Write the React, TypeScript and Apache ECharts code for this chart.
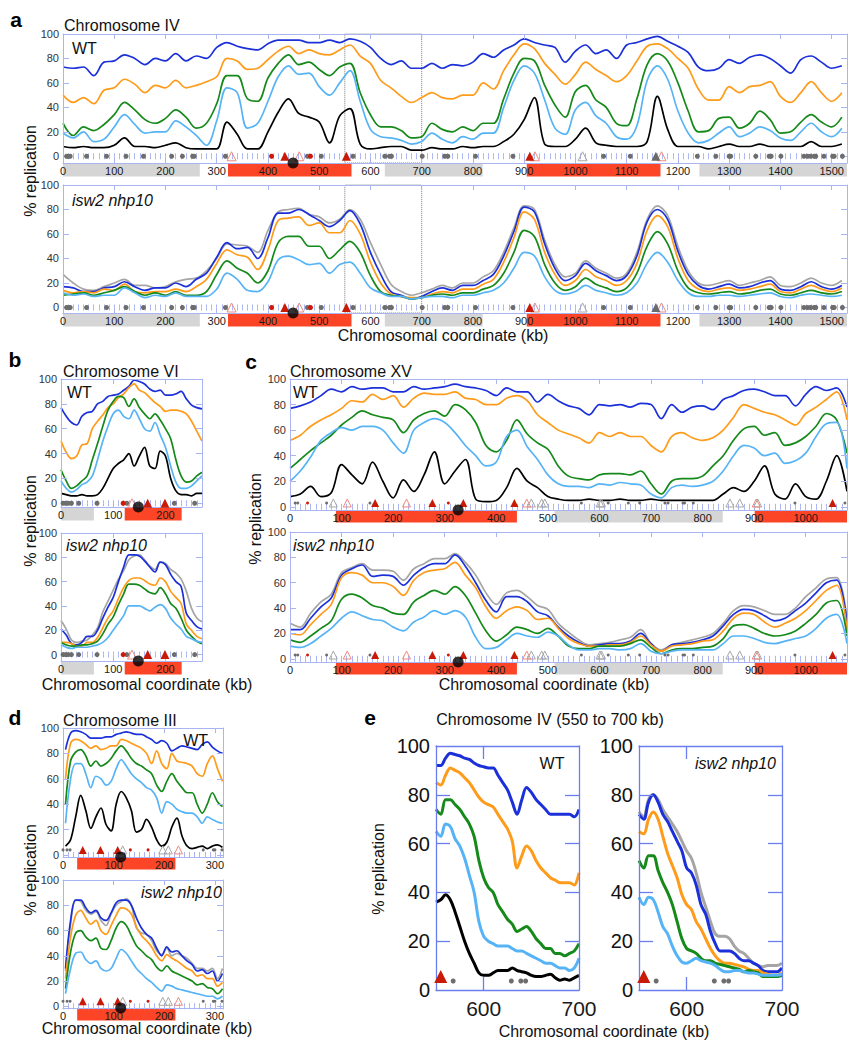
import React, { useEffect, useRef } from "react";
import * as echarts from "echarts";

const FONT = '"Liberation Sans", Arial, Helvetica, sans-serif';
const BLUE = "#1b30d8";
const ORANGE = "#ff9b1a";
const GREEN = "#15891a";
const LBLUE = "#56b4f6";
const BLACK = "#000000";
const GREY = "#a5a5a5";
const FRAME = "#a9b4f3";
const FRAME_E = "#6b7ef0";
const BAND_GREY = "#d5d5d5";
const BAND_RED = "#fb4526";

// ---------- Chromosome IV (panel a) ----------
const IV_X = [0,20,40,60,80,100,120,140,160,180,200,220,240,260,280,300,320,340,360,380,400,420,440,460,480,500,520,540,560,580,600,620,640,660,680,700,720,740,760,780,800,820,840,860,880,900,920,940,960,980,1000,1020,1040,1060,1080,1100,1120,1140,1160,1180,1200,1220,1240,1260,1280,1300,1320,1340,1360,1380,1400,1420,1440,1460,1480,1500,1520];
const IV_WT_BLUE = [73,72,73,66,77,78,83,80,75,80,78,84,78,82,80,89,93,90,88,87,92,95,95,95,93,93,95,93,96,94,89,80,75,78,72,72,76,72,75,74,77,84,81,87,91,96,93,91,89,77,86,91,84,87,80,91,93,96,98,94,90,85,73,70,72,79,76,81,83,80,74,68,79,82,77,72,74];
const IV_WT_ORANGE = [50,44,48,43,54,56,63,59,52,58,56,62,56,58,61,65,80,78,71,72,79,86,90,84,87,84,83,87,91,82,76,62,56,49,44,48,52,48,47,50,50,60,55,70,83,92,88,76,67,59,67,77,71,66,61,66,78,90,92,88,80,72,55,46,46,57,52,57,58,61,49,44,52,61,52,45,52];
const IV_WT_GREEN = [27,17,24,21,26,34,44,38,30,27,31,38,32,23,27,43,66,66,47,45,64,76,83,75,77,71,66,73,76,52,34,24,24,21,15,16,27,22,20,24,21,27,27,47,68,80,78,58,42,32,53,58,46,40,27,25,47,75,84,78,60,37,20,21,31,32,23,27,37,30,19,20,28,34,28,24,32];
const IV_WT_LBLUE = [19,15,20,12,14,24,34,26,19,20,20,29,24,17,9,29,56,52,23,27,45,65,74,67,68,57,50,60,70,45,22,16,15,13,10,12,19,14,11,16,14,19,19,40,62,74,68,46,23,18,38,44,33,27,16,14,25,62,74,63,37,19,11,13,19,24,16,19,24,21,15,13,20,27,20,16,23];
const IV_WT_BLACK = [8,7,8,7,7,9,15,8,8,7,9,11,7,6,6,6,28,18,6,6,20,36,47,35,32,28,11,33,39,10,6,7,8,8,5,5,7,6,6,8,7,8,8,12,18,30,48,10,8,8,14,23,11,9,8,8,8,12,49,22,8,8,8,6,8,10,8,8,10,8,8,8,8,12,8,8,10];
const IV_MUT_GREY = [27,20,15,14,17,20,23,18,18,16,17,21,23,24,30,40,52,51,50,45,63,78,80,81,76,74,69,72,80,72,53,35,19,13,10,12,15,18,16,20,20,25,30,45,65,83,80,55,35,25,28,38,32,28,24,28,45,72,83,75,50,30,20,18,20,22,18,20,22,25,18,17,20,24,20,18,22];
const IV_MUT_BLUE = [17,16,13,13,16,17,21,17,14,16,16,20,17,23,28,41,53,48,49,40,57,77,77,80,76,71,66,71,79,68,45,27,13,10,7,9,13,16,14,18,18,22,27,42,62,82,78,52,32,22,26,36,30,26,22,26,42,70,80,72,46,27,18,15,17,19,16,17,20,22,15,14,17,21,17,15,18];
const IV_MUT_ORANGE = [14,12,13,12,15,14,19,13,12,13,13,15,13,17,23,36,47,43,41,31,47,71,73,74,67,69,61,61,71,60,37,20,11,9,8,8,11,13,12,15,15,19,23,37,57,78,72,45,27,18,22,31,25,22,18,22,36,63,75,66,40,22,15,13,15,16,14,15,17,19,13,12,15,18,15,13,16];
const IV_MUT_GREEN = [10,11,12,10,12,14,17,13,10,12,10,13,10,10,13,27,38,32,28,20,30,53,58,58,50,50,40,47,54,45,26,13,10,9,7,8,10,11,10,12,12,15,18,28,45,63,58,35,20,14,17,24,19,16,13,16,28,50,62,52,30,16,12,11,12,13,11,12,14,15,11,10,12,14,12,11,13];
const IV_MUT_LBLUE = [12,10,11,9,10,10,16,12,8,10,9,12,9,9,9,15,28,23,14,13,21,39,42,39,35,36,28,35,37,28,16,12,9,9,7,8,9,9,8,10,10,12,14,20,32,45,42,25,14,11,13,18,14,12,10,12,20,36,45,37,22,12,9,9,10,10,9,10,11,12,9,8,10,11,10,9,10];
const IV_TICKS = [0,100,200,300,400,500,600,700,800,900,1000,1100,1200,1300,1400,1500];
const IV_BANDS = [[0,267,0],[322,563,1],[628,819,0],[905,1166,1],[1242,1530,0]];
const IV_CEN = [449];
const IV_GREY_DOTS = [7,10,14,46,85,123,157,212,233,253,256,317,477,504,566,628,637,641,701,745,751,805,878,1055,1107,1238,1274,1300,1303,1352,1378,1382,1401,1446,1453,1459,1466,1469,1485,1502,1505,1521];
const IV_RED_DOTS = [407,483];
const IV_RED_TRI = [433,553,911];
const IV_PINK_TRI = [329,461,921,1168];
const IV_GREY_HOLLOW = [1014];
const IV_DARK_TRI = [1157];
const IV_ZOOM = [550,700];

// ---------- Chromosome VI (panel b) ----------
const VI_X = [0,10,20,30,40,50,60,70,80,90,100,110,120,130,140,150,160,170,180,190,200,210,220,230,240,250,260,270];
const VI_WT_BLUE = [77,70,65,63,70,73,74,80,82,86,87,88,91,94,99,98,96,92,90,91,87,87,88,90,84,79,77,76];
const VI_WT_ORANGE = [50,41,36,38,47,48,60,66,71,77,80,85,88,93,96,91,89,85,81,78,74,75,75,74,72,66,58,50];
const VI_WT_GREEN = [27,18,12,14,18,22,35,48,62,75,82,86,85,78,84,77,72,68,72,67,60,52,35,22,17,18,22,25];
const VI_WT_LBLUE = [18,12,9,11,15,17,22,35,50,62,72,75,70,68,75,68,60,58,65,55,45,30,17,12,12,14,18,22];
const VI_WT_BLACK = [8,7,6,6,7,6,6,7,12,20,28,32,35,40,30,38,45,30,28,42,38,20,10,7,7,6,8,8];
const VI_MUT_GREY = [28,21,12,10,11,12,16,22,35,44,53,62,69,78,81,82,78,73,70,76,75,70,67,62,52,38,30,27];
const VI_MUT_BLUE = [21,16,9,8,10,15,15,20,30,39,47,60,72,82,82,81,77,72,68,76,74,66,60,56,34,28,23,21];
const VI_MUT_ORANGE = [10,10,9,7,7,10,10,14,22,30,36,46,55,61,63,63,61,58,57,63,60,52,47,42,25,20,15,13];
const VI_MUT_GREEN = [10,8,7,7,8,8,9,11,17,25,31,41,50,58,58,57,54,51,50,55,50,42,38,30,20,15,11,9];
const VI_MUT_LBLUE = [8,6,5,6,6,6,7,8,10,14,20,26,32,40,40,40,38,36,39,41,38,30,25,21,15,13,11,10];
const VI_TICKS = [0,100,200];
const VI_BANDS = [[0,63,0],[122,231,1]];
const VI_CEN = [148];
const VI_GREY_DOTS = [4,9,14,20,34,69,126,217,256];
const VI_RED_DOTS = [119];
const VI_PINK_TRI = [136];
const VI_RED_TRI = [166,199];

// ---------- Chromosome XV (panel c) ----------
const XV_X = [0,20,40,60,80,100,120,140,160,180,200,220,240,260,280,300,320,340,360,380,400,420,440,460,480,500,520,540,560,580,600,620,640,660,680,700,720,740,760,780,800,820,840,860,880,900,920,940,960,980,1000,1020,1040,1060,1080];
const XV_WT_BLUE = [77,79,82,87,92,90,94,92,93,93,90,90,94,92,93,94,96,94,93,91,87,93,90,90,82,88,83,79,77,72,80,79,80,78,81,80,69,80,74,78,79,76,84,87,91,92,90,87,87,79,88,94,91,93,78];
const XV_WT_ORANGE = [52,56,63,68,72,77,83,82,88,84,87,78,85,89,88,88,90,85,84,80,80,85,87,83,72,66,60,57,54,50,58,55,58,55,55,48,43,55,58,54,52,54,60,70,80,77,74,72,68,64,73,78,84,90,68];
const XV_WT_GREEN = [30,37,44,50,56,64,70,75,72,70,68,58,68,73,75,71,80,76,66,48,43,52,68,57,50,45,32,24,22,21,25,26,26,25,28,18,10,20,22,22,24,32,40,52,61,63,56,58,48,50,55,63,73,68,42];
const XV_WT_LBLUE = [20,28,39,52,58,62,60,63,63,60,50,42,60,66,69,66,58,48,40,32,35,55,60,47,37,25,18,16,16,15,18,17,19,18,17,10,7,15,17,16,17,20,28,40,48,46,40,42,34,36,42,55,65,66,30];
const XV_WT_BLACK = [8,10,16,8,11,33,25,18,35,20,7,21,12,25,43,18,28,37,6,4,5,15,30,20,15,8,6,5,5,6,5,5,6,5,5,6,5,5,5,5,5,5,10,15,12,20,32,10,6,18,8,6,20,40,12];
const XV_MUT_GREY = [28,25,36,45,51,68,72,75,70,70,69,62,71,75,79,79,83,76,66,52,43,52,54,49,42,39,28,21,15,11,12,13,15,17,23,12,7,11,13,15,17,20,28,38,42,41,38,35,35,40,49,56,63,64,31];
const XV_MUT_BLUE = [23,23,32,41,48,66,71,74,65,66,65,58,66,72,75,75,82,73,60,46,37,49,49,45,37,34,25,18,13,10,11,12,12,14,20,12,6,11,12,13,15,18,26,35,39,38,34,30,32,38,44,52,60,62,28];
const XV_MUT_ORANGE = [20,19,27,35,43,64,68,66,60,60,57,50,62,68,70,71,76,66,56,41,32,38,41,38,31,32,24,16,12,10,10,11,11,13,18,11,6,10,11,12,14,15,22,32,36,35,29,25,28,32,38,46,54,58,23];
const XV_MUT_GREEN = [15,13,18,24,30,47,51,48,42,40,36,35,45,50,54,51,57,50,36,22,14,19,25,23,20,24,18,10,8,8,10,10,10,12,15,9,4,7,8,8,9,10,16,26,27,24,20,18,19,22,28,35,44,46,18];
const XV_MUT_LBLUE = [10,9,12,18,24,32,37,34,31,30,25,22,29,33,38,35,38,33,17,8,9,15,20,18,17,21,18,11,7,7,8,8,7,8,12,6,4,6,7,7,7,7,12,18,18,16,13,12,14,16,18,24,32,35,12];
const XV_TICKS = [0,100,200,300,400,500,600,700,800,900,1000];
const XV_BANDS = [[89,440,1],[513,839,0],[901,1080,1]];
const XV_CEN = [326];
const XV_GREY_DOTS = [10,15,71,155,565,617,656,678,727,733,762,765,782,979,1076];
const XV_RED_DOTS = [34,307];
const XV_GREY_HOLLOW = [84,468,488,494,601,604,853,872,907];
const XV_PINK_TRI = [111,226,459,904];
const XV_RED_TRI = [165,276,336,435,1052];

// ---------- Chromosome III (panel d) ----------
const III_X = [5,15,25,35,45,55,65,75,85,95,105,115,125,135,145,155,165,175,185,195,205,215,225,235,245,255,265,275,285,295,305,315];
const III_WT_BLUE = [83,96,98,97,95,92,92,92,93,93,95,96,97,96,95,95,93,91,88,90,88,82,84,86,85,84,83,87,89,85,82,80];
const III_WT_ORANGE = [60,88,91,90,87,84,86,83,84,86,86,91,90,88,86,84,80,72,82,72,68,80,74,73,72,70,64,62,72,78,68,58];
const III_WT_GREEN = [40,74,81,83,78,70,74,70,72,76,82,86,82,76,72,70,67,64,55,50,58,64,58,53,49,49,40,33,40,49,42,38];
const III_WT_LBLUE = [25,60,72,72,64,53,62,60,55,58,68,75,70,64,60,57,53,51,45,33,42,40,36,34,33,33,30,25,30,28,26,25];
const III_WT_BLACK = [7,12,30,47,35,21,30,37,24,19,40,50,45,35,18,20,28,22,12,7,10,22,29,15,7,5,6,7,5,7,8,6];
const III_MUT_GREY = [28,65,84,83,76,73,75,68,64,73,80,83,85,80,62,58,57,52,44,41,46,40,42,40,38,34,30,30,28,30,22,30];
const III_MUT_BLUE = [30,68,84,84,78,74,76,70,68,74,82,84,84,80,70,62,57,54,46,40,47,43,44,40,36,33,28,29,26,28,20,26];
const III_MUT_ORANGE = [22,55,72,76,70,65,68,60,57,64,72,78,77,73,63,56,52,47,40,36,41,38,36,33,30,28,24,25,22,22,16,19];
const III_MUT_GREEN = [14,43,58,60,55,52,54,46,45,52,62,67,64,56,48,44,40,37,31,28,32,28,26,24,22,20,17,18,15,14,10,14];
const III_MUT_LBLUE = [10,30,42,43,37,34,36,30,28,30,38,45,42,36,30,26,22,19,15,12,17,16,14,13,12,11,10,9,8,8,6,8];
const III_TICKS = [0,100,200,300];
const III_BANDS = [[28,222,1]];
const III_CEN = [114];
const III_GREY_DOTS = [0,8,14,277,297,300,314];
const III_RED_DOTS = [133,168];
const III_RED_TRI = [39,74,108];
const III_GREY_HOLLOW = [118,197,208];
const III_PINK_TRI = [228];

// ---------- Chromosome IV 550-700 kb (panel e) ----------
const E_X = [550,555,560,565,570,575,580,585,590,595,600,605,610,615,620,625,630,635,640,645,650,655,660,665,670,675,680,685,690,695,700];
const E_WT_BLUE = [92,92,95,97,96.5,96,95,94.5,93,92,91.5,91,91,88,85,82,77,72,78,83,81,78,76,74,72,72,72,72,72,71,74];
const E_WT_ORANGE = [85,84,88,91,90,89,87,85,82,79,77,76,75,72,69,66,61,50,55,59,57,53,50,48,46,45,44,44,44,43,48];
const E_WT_GREEN = [74,72,78,78,76,74,71,68,63,53,46,42,40,35,32,29,27,24,25,26,24,21,19,17,17,15,15,14,15,16,19];
const E_WT_LBLUE = [65,63,68,67,62,59,54,47,40,28,22,20,19,18,18,18,17,16,16,15,14,13,12,11,11,10,9,9,8,9,13];
const E_WT_BLACK = [36,37,39,37,32,26,20,15,11,7,6,6,7,8,8,8,9,8,7.5,7,6,5.5,5.5,6,6.5,5,4,4.5,4,5,6];
const E_MUT_GREY = [73,71,78,80,78,74,71,68,65,61,57,54,48,40,34,28,23,22,22,21,18,16,15,13,11,10,9.5,10,10,10,11];
const E_MUT_BLUE = [72,70,77,80,77,72,69,65,61,57,50,48,43,35,31,24,19,16,16,16,15,13,12,12,11,10,8,7.5,7.5,7.5,9];
const E_MUT_ORANGE = [65,64,70,73,70,63,56,51,46,39,35,33,28,25,21,17,14,12,11,11,10.5,10,9.5,8.5,8,8,7,6.5,6,6,7];
const E_MUT_GREEN = [53,50,55,55,49,44,40,35,28,21,17,16,15,13,12,12,11,10.5,10,9.5,9,8.5,7.5,8,7.5,7,5.5,5.5,5.5,5.5,6];
const E_MUT_LBLUE = [38,35,38,37,32,26,23,18,14,11.5,11,12,13,12,11.5,11,10,8.5,7.5,7.5,8,8,7.5,7,7,6.5,6,6,6,6,6.5];
const E_RED_TRI = [555];
const E_GREY_DOTS = [568,629,639,644];

const Y_TICKS = [0,20,40,60,80,100];

function wtLines(b, o, g, l, k) {
  return [
    { values: b, color: BLUE },
    { values: o, color: ORANGE },
    { values: g, color: GREEN },
    { values: l, color: LBLUE },
    { values: k, color: BLACK },
  ];
}
function mutLines(gr, b, o, g, l) {
  return [
    { values: gr, color: GREY },
    { values: b, color: BLUE },
    { values: o, color: ORANGE },
    { values: g, color: GREEN },
    { values: l, color: LBLUE },
  ];
}

function markSet(kind, pos, size) {
  const base = { pos, size, symbol: "triangle", fill: "transparent", stroke: "transparent" };
  if (kind === "greyDot") return { ...base, symbol: "circle", fill: "#6d6d6d" };
  if (kind === "redDot") return { ...base, symbol: "circle", fill: "#d01808" };
  if (kind === "redTri") return { ...base, fill: "#c81a06" };
  if (kind === "pinkTri") return { ...base, stroke: "#ee8a80" };
  if (kind === "greyHollow") return { ...base, stroke: "#a8a8a8" };
  return { ...base, fill: "#6a6a6a" };
}

const IV_MARKS = [
  markSet("greyDot", IV_GREY_DOTS, 5),
  markSet("redDot", IV_RED_DOTS, 5),
  markSet("pinkTri", IV_PINK_TRI, 9),
  markSet("greyHollow", IV_GREY_HOLLOW, 9),
  markSet("darkTri", IV_DARK_TRI, 9),
  markSet("redTri", IV_RED_TRI, 9),
];
const VI_MARKS = [
  markSet("greyDot", VI_GREY_DOTS, 5),
  markSet("redDot", VI_RED_DOTS, 5),
  markSet("pinkTri", VI_PINK_TRI, 9),
  markSet("redTri", VI_RED_TRI, 9),
];
const XV_MARKS = [
  markSet("greyDot", XV_GREY_DOTS, 3),
  markSet("redDot", XV_RED_DOTS, 3),
  markSet("greyHollow", XV_GREY_HOLLOW, 8),
  markSet("pinkTri", XV_PINK_TRI, 8),
  markSet("redTri", XV_RED_TRI, 8),
];
const III_MARKS = [
  markSet("greyDot", III_GREY_DOTS, 3),
  markSet("redDot", III_RED_DOTS, 3),
  markSet("greyHollow", III_GREY_HOLLOW, 8),
  markSet("pinkTri", III_PINK_TRI, 8),
  markSet("redTri", III_RED_TRI, 8),
];
const E_MARKS_TRI = [markSet("redTri", E_RED_TRI, 13)];
const E_MARKS_DOT = [markSet("greyDot", E_GREY_DOTS, 5)];

const PANELS = [
  // a - WT
  { left: 63, top: 34, width: 784, height: 129, xMin: 0, xMax: 1530, yMin: -5.5,
    ticks: IV_TICKS, minor: 10, xs: IV_X, lw: 1.7,
    lines: wtLines(IV_WT_BLUE, IV_WT_ORANGE, IV_WT_GREEN, IV_WT_LBLUE, IV_WT_BLACK),
    bands: IV_BANDS, bandH: 13, cen: IV_CEN, marks: IV_MARKS, markY: 0, dotted: IV_ZOOM },
  // a - mutant
  { left: 63, top: 185, width: 784, height: 128, xMin: 0, xMax: 1530, yMin: -4.5,
    ticks: IV_TICKS, minor: 10, xs: IV_X, lw: 1.7,
    lines: mutLines(IV_MUT_GREY, IV_MUT_BLUE, IV_MUT_ORANGE, IV_MUT_GREEN, IV_MUT_LBLUE),
    bands: IV_BANDS, bandH: 13, cen: IV_CEN, marks: IV_MARKS, markY: 0, dotted: IV_ZOOM },
  // b - WT
  { left: 61, top: 379, width: 141, height: 128, xMin: 0, xMax: 270, yMin: -3,
    ticks: VI_TICKS, minor: 10, xs: VI_X, lw: 1.7,
    lines: wtLines(VI_WT_BLUE, VI_WT_ORANGE, VI_WT_GREEN, VI_WT_LBLUE, VI_WT_BLACK),
    bands: VI_BANDS, bandH: 13, cen: VI_CEN, marks: VI_MARKS, markY: 0 },
  // b - mutant
  { left: 61, top: 533, width: 141, height: 128, xMin: 0, xMax: 270, yMin: -5.3,
    ticks: VI_TICKS, minor: 10, xs: VI_X, lw: 1.7,
    lines: mutLines(VI_MUT_GREY, VI_MUT_BLUE, VI_MUT_ORANGE, VI_MUT_GREEN, VI_MUT_LBLUE),
    bands: VI_BANDS, bandH: 13, cen: VI_CEN, marks: VI_MARKS, markY: 0 },
  // c - WT
  { left: 290, top: 379, width: 557, height: 131, xMin: 0, xMax: 1080, yMin: -2.5,
    ticks: XV_TICKS, minor: 10, xs: XV_X, lw: 1.7,
    lines: wtLines(XV_WT_BLUE, XV_WT_ORANGE, XV_WT_GREEN, XV_WT_LBLUE, XV_WT_BLACK),
    bands: XV_BANDS, bandH: 12, cen: XV_CEN, marks: XV_MARKS, markY: 3 },
  // c - mutant
  { left: 290, top: 532, width: 557, height: 130, xMin: 0, xMax: 1080, yMin: -2.5,
    ticks: XV_TICKS, minor: 10, xs: XV_X, lw: 1.7,
    lines: mutLines(XV_MUT_GREY, XV_MUT_BLUE, XV_MUT_ORANGE, XV_MUT_GREEN, XV_MUT_LBLUE),
    bands: XV_BANDS, bandH: 12, cen: XV_CEN, marks: XV_MARKS, markY: 3 },
  // d - WT
  { left: 63, top: 728, width: 160, height: 129, xMin: 0, xMax: 316, yMin: -1.6,
    ticks: III_TICKS, minor: 10, xs: III_X, lw: 1.7,
    lines: wtLines(III_WT_BLUE, III_WT_ORANGE, III_WT_GREEN, III_WT_LBLUE, III_WT_BLACK),
    bands: III_BANDS, bandH: 12, cen: III_CEN, marks: III_MARKS, markY: 4 },
  // d - mutant
  { left: 63, top: 880, width: 160, height: 128, xMin: 0, xMax: 316, yMin: -1.3,
    ticks: III_TICKS, minor: 10, xs: III_X, lw: 1.7,
    lines: mutLines(III_MUT_GREY, III_MUT_BLUE, III_MUT_ORANGE, III_MUT_GREEN, III_MUT_LBLUE),
    bands: III_BANDS, bandH: 12, cen: III_CEN, marks: III_MARKS, markY: 4 },
  // e - WT
  { left: 436, top: 746, width: 143, height: 244, xMin: 550, xMax: 700, yMin: 0, big: true,
    ticks: [600, 700], minor: null, xs: E_X, lw: 3,
    lines: wtLines(E_WT_BLUE, E_WT_ORANGE, E_WT_GREEN, E_WT_LBLUE, E_WT_BLACK) },
  // e - mutant
  { left: 639, top: 746, width: 143, height: 244, xMin: 550, xMax: 700, yMin: 0, big: true,
    ticks: [600, 700], minor: null, xs: E_X, lw: 3,
    lines: mutLines(E_MUT_GREY, E_MUT_BLUE, E_MUT_ORANGE, E_MUT_GREEN, E_MUT_LBLUE) },
];

const plain = (v) => String(v);

function buildOption() {
  const grid = [];
  const xAxis = [];
  const yAxis = [];
  const series = [];

  PANELS.forEach((p, gi) => {
    grid.push({ left: p.left, top: p.top, width: p.width, height: p.height, containLabel: false, outerBoundsMode: "none" });
    const frameColor = p.big ? FRAME_E : FRAME;
    const frameW = p.big ? 1.3 : 1;
    const xi = xAxis.length;
    const lineSt = { color: frameColor, width: frameW };
    xAxis.push({
      gridIndex: gi, type: "value", position: "bottom", min: p.xMin, max: p.xMax, z: 3,
      axisLine: { show: true, onZero: false, lineStyle: lineSt },
      axisTick: { show: true, inside: true, length: p.big ? 13 : 5, customValues: p.big ? [600] : p.ticks, lineStyle: lineSt },
      axisLabel: {
        show: true, customValues: p.ticks, margin: p.big ? 8 : 2, formatter: plain,
        fontSize: p.big ? 21 : 11, color: "#1a1a1a", fontFamily: FONT,
      },
      splitLine: { show: false },
    });
    xAxis.push({
      gridIndex: gi, type: "value", position: "top", min: p.xMin, max: p.xMax, z: 3,
      axisLine: { show: true, onZero: false, lineStyle: lineSt },
      axisTick: { show: true, inside: true, length: p.big ? 13 : 5, customValues: p.big ? [600] : p.ticks, lineStyle: lineSt },
      axisLabel: { show: false },
      splitLine: { show: false },
    });
    if (p.minor) {
      ["bottom", "top"].forEach((pos) => {
        xAxis.push({
          gridIndex: gi, type: "value", position: pos, min: p.xMin, max: p.xMax, interval: p.minor, z: 3,
          axisLine: { show: false },
          axisTick: { show: true, inside: true, length: 3, lineStyle: lineSt },
          axisLabel: { show: false },
          splitLine: { show: false },
        });
      });
    }
    const yi = yAxis.length;
    const yTickVals = p.big ? [20, 40, 60, 80] : Y_TICKS;
    yAxis.push({
      gridIndex: gi, type: "value", position: "left", min: p.yMin, max: 100, z: 3,
      axisLine: { show: true, onZero: false, lineStyle: lineSt },
      axisTick: { show: true, inside: true, length: p.big ? 14 : 6, customValues: yTickVals, lineStyle: lineSt },
      axisLabel: {
        show: true, customValues: Y_TICKS, margin: p.big ? 6 : 4, formatter: plain,
        fontSize: p.big ? 20 : 11, color: p.big ? "#111" : "#333", fontFamily: FONT,
      },
      splitLine: { show: false },
    });
    yAxis.push({
      gridIndex: gi, type: "value", position: "right", min: p.yMin, max: 100, z: 3,
      axisLine: { show: true, onZero: false, lineStyle: lineSt },
      axisTick: { show: true, inside: true, length: p.big ? 14 : 6, customValues: yTickVals, lineStyle: lineSt },
      axisLabel: { show: false },
      splitLine: { show: false },
    });

    if (p.bands) {
      const yMin = p.yMin;
      const bh = p.bandH;
      series.push({
        type: "custom", xAxisIndex: xi, yAxisIndex: yi, z: 1, silent: true, clip: false,
        encode: { x: [0, 1], y: 2 },
        data: p.bands,
        renderItem: (params, api) => {
          const a = api.coord([api.value(0), yMin]);
          const b = api.coord([api.value(1), yMin]);
          return {
            type: "rect",
            shape: { x: a[0], y: a[1] + 0.5, width: b[0] - a[0], height: bh },
            style: { fill: api.value(2) ? BAND_RED : BAND_GREY },
          };
        },
      });
    }

    p.lines.forEach((ln, li) => {
      const s: any = {
        type: "line", xAxisIndex: xi, yAxisIndex: yi, z: 2,
        data: p.xs.map((x, i) => [x, ln.values[i]]),
        showSymbol: false, symbol: "none", smooth: 0.35, silent: true,
        lineStyle: { color: ln.color, width: p.lw },
      };
      if (li === 0 && p.dotted) {
        s.markArea = {
          silent: true,
          itemStyle: { color: "rgba(0,0,0,0)", borderColor: "#7a7a7a", borderWidth: 1, borderType: "dotted" },
          data: [[{ xAxis: p.dotted[0] }, { xAxis: p.dotted[1] }]],
        };
      }
      series.push(s);
    });

    const addMarks = (marks, yv) => {
      marks.forEach((m) => {
        series.push({
          type: "scatter", xAxisIndex: xi, yAxisIndex: yi, z: 5, silent: true, clip: false,
          symbol: m.symbol, symbolSize: m.size,
          data: m.pos.map((x) => [x, yv]),
          itemStyle: { color: m.fill, borderColor: m.stroke, borderWidth: m.stroke === "transparent" ? 0 : 1, opacity: 1 },
        });
      });
    };
    if (p.marks) addMarks(p.marks, p.markY);
    if (p.big) {
      addMarks(E_MARKS_TRI, 5.5);
      addMarks(E_MARKS_DOT, 3.7);
    }

    if (p.cen) {
      series.push({
        type: "scatter", xAxisIndex: xi, yAxisIndex: yi, z: 6, silent: true, clip: false,
        symbol: "circle", symbolSize: 11,
        data: p.cen.map((x) => [x, p.yMin]),
        itemStyle: { color: "#000" },
      });
    }
  });

  const txt = (text, x, y, size, opt: any = {}) => ({
    type: "text", x, y, rotation: opt.rot || 0, silent: true, z: 10,
    style: {
      text,
      font: `${opt.italic ? "italic " : ""}${opt.bold ? "bold " : ""}${size}px ${FONT}`,
      fill: opt.color || "#111",
      textAlign: opt.align || "left",
      textVerticalAlign: "middle",
    },
  });
  const ROT = Math.PI / 2;
  const graphic = [
    txt("a", 16, 19, 21, { bold: true, align: "center", color: "#000" }),
    txt("Chromosome IV", 64, 25, 16),
    txt("WT", 72, 48, 16),
    txt("isw2 nhp10", 72, 200, 16, { italic: true }),
    txt("% replication", 30, 171, 16, { rot: ROT, align: "center" }),
    txt("Chromosomal coordinate (kb)", 443, 335, 16, { align: "center" }),

    txt("b", 15, 359, 21, { bold: true, align: "center", color: "#000" }),
    txt("Chromosome VI", 63, 371, 16),
    txt("WT", 67, 392, 16),
    txt("isw2 nhp10", 66, 545, 16, { italic: true }),
    txt("% replication", 30, 521, 16, { rot: ROT, align: "center" }),
    txt("Chromosomal coordinate (kb)", 147, 684, 16, { align: "center" }),

    txt("c", 251, 361, 21, { bold: true, align: "center", color: "#000" }),
    txt("Chromosome XV", 290, 371, 16),
    txt("WT", 293, 392, 16),
    txt("isw2 nhp10", 293, 545, 16, { italic: true }),
    txt("% replication", 255, 519, 16, { rot: ROT, align: "center" }),
    txt("Chromosomal coordinate (kb)", 544, 684, 16, { align: "center" }),

    txt("d", 15, 717, 21, { bold: true, align: "center", color: "#000" }),
    txt("Chromosome III", 63, 720, 16),
    txt("WT", 208, 740, 16, { align: "right" }),
    txt("isw2 nhp10", 222, 892, 16, { italic: true, align: "right" }),
    txt("% replication", 30, 870, 16, { rot: ROT, align: "center" }),
    txt("Chromosomal coordinate (kb)", 147, 1028, 16, { align: "center" }),

    txt("e", 370, 717, 21, { bold: true, align: "center", color: "#000" }),
    txt("Chromosome IV (550 to 700 kb)", 550, 719, 16, { align: "center" }),
    txt("WT", 552, 763, 16, { align: "center" }),
    txt("isw2 nhp10", 776, 763, 16, { italic: true, align: "right" }),
    txt("% replication", 378, 869, 16, { rot: ROT, align: "center" }),
    txt("Chromosomal coordinate (kb)", 604, 1031, 16, { align: "center" }),
  ];

  return {
    animation: false,
    backgroundColor: "#ffffff",
    grid, xAxis, yAxis, series, graphic,
  };
}

export default function App() {
  const ref = useRef(null);
  useEffect(() => {
    const chart = echarts.init(ref.current, null, { renderer: "svg" });
    chart.setOption(buildOption() as any);
    return () => chart.dispose();
  }, []);
  return (
    <div
      ref={ref}
      style={{ position: "absolute", left: 0, top: 0, width: 861, height: 1050, background: "#fff" }}
    />
  );
}
